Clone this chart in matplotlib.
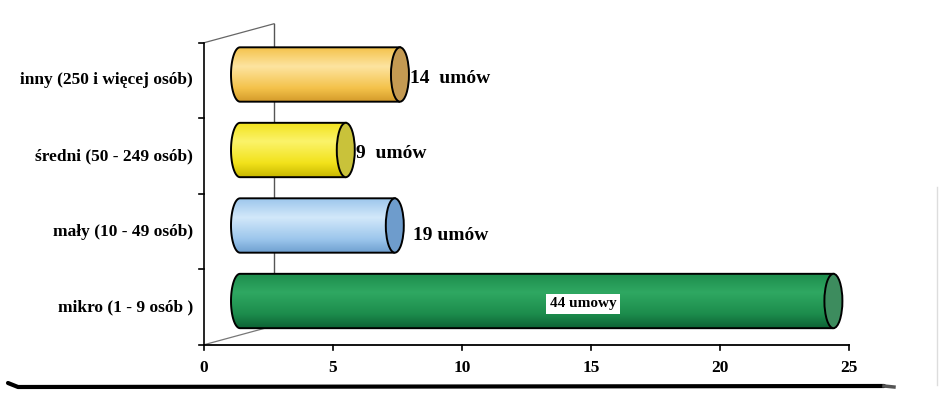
import numpy as np
import matplotlib
matplotlib.use('Agg')
import matplotlib.pyplot as plt
from matplotlib.patches import Ellipse, PathPatch
from matplotlib.path import Path
from matplotlib.colors import LinearSegmentedColormap

# wielkosc firmy i liczba umow (od dolu)
kategorie = ['mikro (1 - 9 osób )', 'mały (10 - 49 osób)',
             'średni (50 - 249 osób)', 'inny (250 i więcej osób)']
dlugosc = [23.0, 6.0, 4.1, 6.2]
umowy = [44, 19, 9, 14]
etykiety = ['44 umowy', '19 umów', '9  umów', '14  umów']
xticks = [0, 5, 10, 15, 20, 25]

# kolory walcow: cien, srodek, jasny, czolo
kolory = [('#0d6335', '#1c8c4c', '#2fa862', '#3d8c5e'),
          ('#6e9fd0', '#9cc6ec', '#d2e8fa', '#6e9ccc'),
          ('#c8b800', '#f2e21a', '#fbf36a', '#c9c23a'),
          ('#d39a2a', '#f4c24a', '#fde4a0', '#c49a52')]

PX = 25.8          # pikseli na jednostke osi x
PY = 75.5          # pikseli na kategorie
X0, Y0 = 204, 307  # punkt (0, mikro) w pikselach
DX, DY = 70, 19    # glebokosc ramki 3D
BX, BY = 36, 6     # przesuniecie walcow w glab
H = 0.72           # wysokosc walca (w kategoriach)
RX = 9 / PX        # polszerokosc elipsy

serif = 'Liberation Serif'

fig = plt.figure(figsize=(9.41, 3.96), dpi=100)
ax = fig.add_axes([0, 0, 1, 1])
ax.set_xlim(-X0 / PX, (941 - X0) / PX)
ax.set_ylim((Y0 - 396) / PY, Y0 / PY)
ax.axis('off')

dxu, dyu = DX / PX, DY / PY
lo, hi = -0.5, len(kategorie) - 0.5

# ramka: sciana lewa, tylna krawedz, podloga
ax.plot([0, 0], [lo, hi], color='black', lw=1.2)
ax.plot([0, dxu], [hi, hi + dyu], color='#666666', lw=0.9)
ax.plot([dxu, dxu], [lo + dyu, hi + dyu], color='#555555', lw=1.0)
ax.plot([0, dxu], [lo, lo + dyu], color='#777777', lw=0.9)
for b in np.arange(lo, hi + 0.01, 1.0):
    ax.plot([-5 / PX, 0], [b, b], color='black', lw=1.2)

ax.plot([0, 25], [lo, lo], color='black', lw=1.3)
for t in xticks:
    ax.plot([t, t], [lo, lo - 5 / PY], color='black', lw=1.2)
    ax.text(t, lo - 23 / PY, str(t), ha='center', va='center',
            fontsize=12.5, fontweight='bold', family=serif)

for i, kat in enumerate(kategorie):
    ax.text(-11 / PX, i, kat, ha='right', va='center', fontsize=12.5,
            fontweight='bold', family=serif)

# walce
ox, oy = BX / PX, BY / PY
for i, L in enumerate(dlugosc):
    cien, srodek, jasny, czolo = kolory[i]
    x1, x2 = ox, ox + L
    yc = i + oy
    y_lo, y_hi = yc - H / 2, yc + H / 2
    t = np.linspace(np.pi / 2, 3 * np.pi / 2, 40)
    verts = [(x2, y_lo), (x2, y_hi), (x1, y_hi)]
    verts += list(zip(x1 + RX * np.cos(t), yc + H / 2 * np.sin(t)))
    verts += [(x1, y_lo), (x2, y_lo)]
    body = Path(verts)
    cmap = LinearSegmentedColormap.from_list(
        'walec', [(0, srodek), (0.35, jasny), (0.75, srodek), (1, cien)])
    grad = np.linspace(0, 1, 200).reshape(-1, 1)
    img = ax.imshow(grad, cmap=cmap, aspect='auto', origin='upper',
                    extent=[x1 - RX, x2, y_lo, y_hi], zorder=3)
    patch = PathPatch(body, facecolor='none', edgecolor='black', lw=1.4,
                      zorder=4)
    ax.add_patch(patch)
    img.set_clip_path(patch)
    ax.add_patch(Ellipse((x2, yc), 2 * RX, H, facecolor=czolo,
                         edgecolor='black', lw=1.4, zorder=5))

# opisy liczby umow
for i, (L, txt) in enumerate(zip(dlugosc, etykiety)):
    yc = i + oy
    if umowy[i] == max(umowy):
        ax.text(ox + L * 0.578, yc - 3 / PY, txt, ha='center', va='center',
                fontsize=11, fontweight='bold', family=serif, zorder=6,
                bbox=dict(facecolor='white', edgecolor='none', pad=2.5))
    elif umowy[i] == 19:
        ax.text(ox + L + RX + 9 / PX, yc - 10 / PY, txt, ha='left',
                va='center', fontsize=14, fontweight='bold', family=serif,
                zorder=6)
    else:
        ax.text(ox + L + RX + 1 / PX, yc - 4 / PY, txt, ha='left',
                va='center', fontsize=14, fontweight='bold', family=serif,
                zorder=6)

# dolna krawedz ramki strony
ax.plot([-196 / PX, -186 / PX, 680 / PX], [-76 / PY, -80 / PY, -79 / PY],
        color='black', lw=3, solid_capstyle='round')
ax.plot([680 / PX, 690 / PX], [-79 / PY, -80 / PY], color='#555555', lw=2.5)
ax.plot([733 / PX, 733 / PX], [-78 / PY, 120 / PY], color='#dddddd', lw=1)

fig.savefig('out.png', dpi=100)
